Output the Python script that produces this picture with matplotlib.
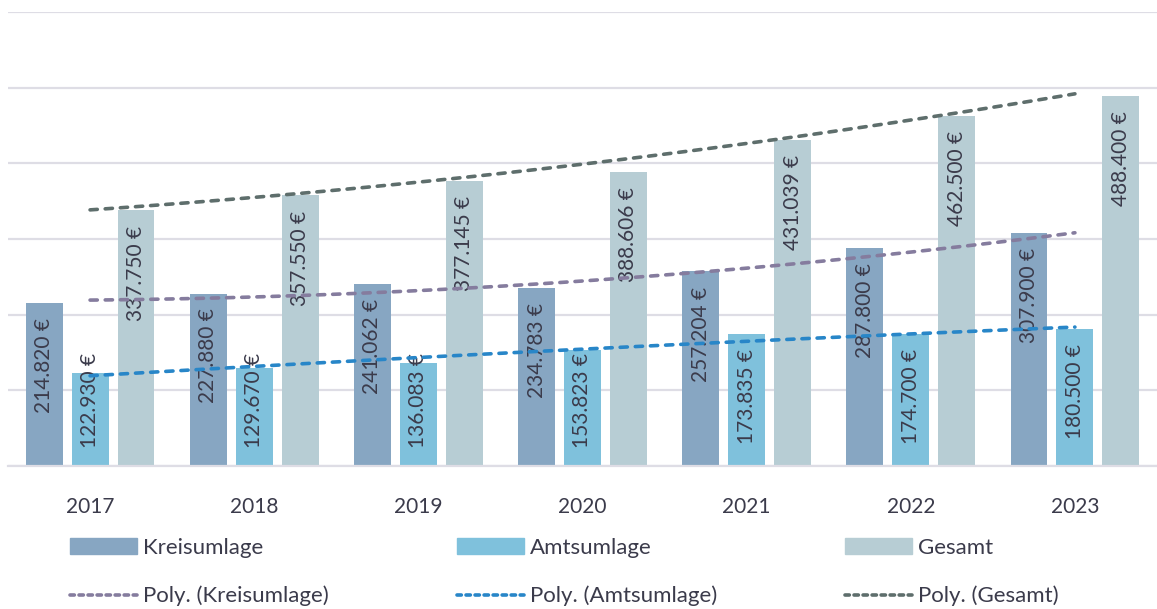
import numpy as np
import matplotlib
matplotlib.use("Agg")
import matplotlib.pyplot as plt
from matplotlib.lines import Line2D
from matplotlib.patches import Patch

plt.rcParams['font.family'] = ['Lato', 'DejaVu Sans']

years = ['2017', '2018', '2019', '2020', '2021', '2022', '2023']
kreisumlage = [214820, 227880, 241062, 234783, 257204, 287800, 307900]
amtsumlage = [122930, 129670, 136083, 153823, 173835, 174700, 180500]
gesamt = [337750, 357550, 377145, 388606, 431039, 462500, 488400]

series = [
    ('Kreisumlage', kreisumlage, '#87a6c2', '#857c9e'),
    ('Amtsumlage', amtsumlage, '#7fc1dc', '#2886c8'),
    ('Gesamt', gesamt, '#b7cdd4', '#5e6e6c'),
]

txt_col = '#3b3b4b'
grid_col = '#dedde5'

fig = plt.figure(figsize=(11.57, 6.09), dpi=100)
ax = fig.add_axes([8/1157, 143/609, 1 - 8/1157, 454/609])

x = np.arange(len(years))
width = 0.225
step = 0.28

handles_bar = []
handles_line = []
for i, (name, vals, col, tcol) in enumerate(series):
    pos = x + (i - 1) * step
    ax.bar(pos, vals, width, color=col, zorder=2)
    for p, v in zip(pos, vals):
        lbl = f"{v:,}".replace(',', '.') + " €"
        if v >= 172000:
            ax.annotate(lbl, (p, v), xytext=(0, -15), textcoords='offset pixels',
                        rotation=90, ha='center', va='top',
                        fontsize=15, color=txt_col, zorder=3)
        else:
            ax.annotate(lbl, (p, 0), xytext=(0, 18), textcoords='offset pixels',
                        rotation=90, ha='center', va='bottom',
                        fontsize=15, color=txt_col, zorder=3)
    # polynomial trend (order 2) like Excel
    coef = np.polyfit(x + 1, vals, 2)
    xs = np.linspace(0, 6, 100)
    ax.plot(xs, np.polyval(coef, xs + 1), color=tcol, lw=2.6, dashes=(2.0, 2.2),
            dash_capstyle='round', zorder=4)
    handles_bar.append(Patch(color=col, label=name))
    handles_line.append(Line2D([], [], color=tcol, lw=2.6, dashes=(1.2, 1.3),
                               dash_capstyle='round', label=f"Poly. ({name})"))

ax.set_xlim(-0.5, 6.5)
ax.set_ylim(0, 600000)
ax.set_yticks(np.arange(0, 600001, 100000))
ax.yaxis.grid(True, color=grid_col, lw=1.6, zorder=0)
ax.set_axisbelow(True)
ax.tick_params(axis='y', left=False, labelleft=False)
ax.set_xticks(x)
ax.set_xticklabels(years, fontsize=15, color=txt_col)
ax.tick_params(axis='x', length=0, pad=22)
for s in ['left', 'right', 'top']:
    ax.spines[s].set_visible(False)
ax.spines['bottom'].set_color(grid_col)
ax.spines['bottom'].set_linewidth(1.6)

for j, xpos in enumerate([70, 457, 845]):
    fig.legend(handles=[handles_bar[j], handles_line[j]], loc='upper left',
               bbox_to_anchor=(xpos/1157, 1 - 538/609), frameon=False,
               fontsize=16, borderpad=0, borderaxespad=0, handlelength=3.0,
               handleheight=0.7, handletextpad=0.3, labelspacing=1.25,
               labelcolor=txt_col)

fig.savefig('out.png', dpi=100)
